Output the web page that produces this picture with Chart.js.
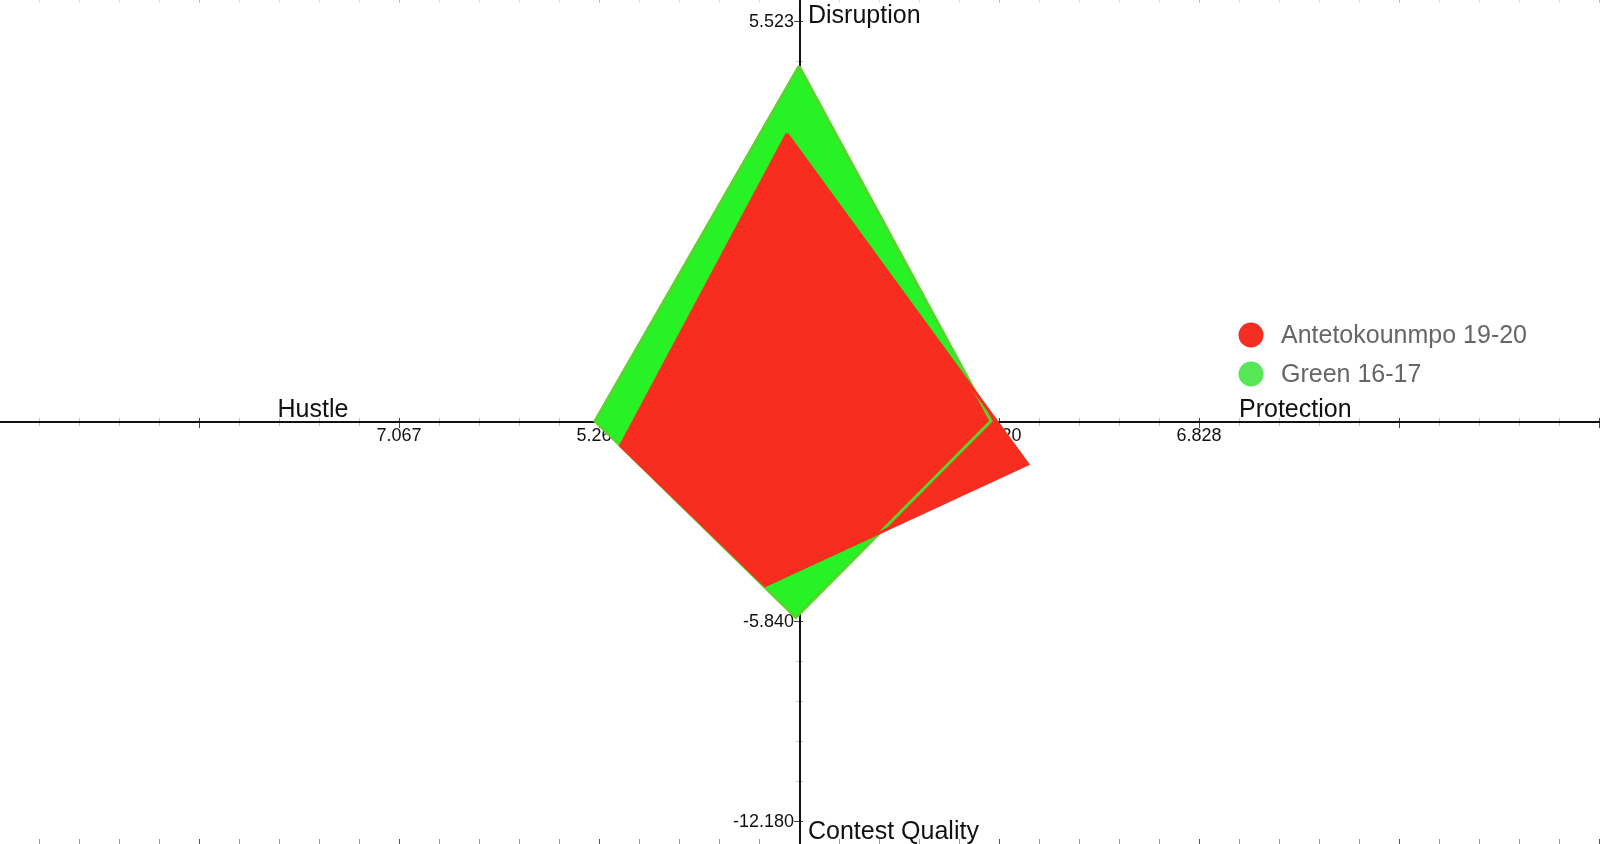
<!DOCTYPE html>
<html>
<head>
<meta charset="utf-8">
<title>Defensive profile</title>
<script src="https://cdn.jsdelivr.net/npm/chart.js@4.4.1/dist/chart.umd.min.js"></script>
<style>
  html, body { margin: 0; padding: 0; background: #fff; }
  #wrap { width: 1600px; height: 844px; }
</style>
</head>
<body>
<div id="wrap"><canvas id="chart" width="1600" height="844"></canvas></div>
<script>
// axes, clockwise from the top
const categories = ['Disruption', 'Protection', 'Contest Quality', 'Hustle'];
const halfTicks = ['3.012', '5.020', '-5.840', '5.267'];
const fullTicks = ['5.523', '6.828', '-12.180', '7.067'];

// series vertices in plot units (10 units = full axis length)
const seriesNames = ['Antetokounmpo 19-20', 'Green 16-17'];
const antetokounmpoX = [-0.3, 5.72, -0.85, -4.46];
const antetokounmpoY = [7.18, -1.08, -4.12, -0.62];
const greenX = [0, 4.8, -0.08, -5.1];
const greenY = [8.87, 0, -4.91, 0];

const axisDirs = [[0, 1], [1, 0], [0, -1], [-1, 0]];
const FONT = '"Liberation Sans", Arial, Helvetica, sans-serif';
const legendColors = ['rgb(244, 46, 36)', 'rgb(86, 230, 86)'];

function polygon(xs, ys) {
  const pts = xs.map((v, i) => ({ x: v, y: ys[i] }));
  pts.push({ x: xs[0], y: ys[0] });
  return pts;
}

// cross shaped axes, drawn before the polygons so they sit underneath
const crossAxes = {
  id: 'crossAxes',
  beforeDraw(chart) {
    const { ctx, chartArea: a, scales: { x, y } } = chart;
    const cx = Math.round(x.getPixelForValue(0));
    const cy = Math.round(y.getPixelForValue(0));
    ctx.save();
    ctx.lineWidth = 1;

    // tick rows along the top and bottom edges
    for (let i = Math.ceil(x.min); i <= Math.floor(x.max); i++) {
      const px = Math.round(x.getPixelForValue(i)) + 0.5;
      const major = i % 5 === 0;
      ctx.strokeStyle = major ? '#555' : '#999';
      ctx.beginPath(); ctx.moveTo(px, a.bottom - 5); ctx.lineTo(px, a.bottom); ctx.stroke();
      ctx.strokeStyle = major ? '#bbb' : '#ddd';
      ctx.beginPath(); ctx.moveTo(px, a.top); ctx.lineTo(px, a.top + 3); ctx.stroke();
    }

    // ticks on the horizontal axis
    for (let i = Math.ceil(x.min); i <= Math.floor(x.max); i++) {
      if (i === 0) continue;
      const px = Math.round(x.getPixelForValue(i)) + 0.5;
      const major = i % 5 === 0;
      ctx.strokeStyle = major ? '#444' : '#c4c4c4';
      ctx.beginPath(); ctx.moveTo(px, cy - 3); ctx.lineTo(px, cy + (major ? 7 : 5)); ctx.stroke();
    }
    // ticks on the vertical axis
    for (let i = Math.ceil(y.min); i <= Math.floor(y.max); i++) {
      if (i === 0) continue;
      const py = Math.round(y.getPixelForValue(i)) + 0.5;
      const major = i % 5 === 0;
      ctx.strokeStyle = major ? '#444' : '#c4c4c4';
      ctx.beginPath(); ctx.moveTo(cx - (major ? 5 : 3), py); ctx.lineTo(cx + 4, py); ctx.stroke();
    }

    // axis lines
    ctx.strokeStyle = '#111';
    ctx.lineWidth = 2;
    ctx.beginPath();
    ctx.moveTo(a.left, cy + 1); ctx.lineTo(a.right, cy + 1);
    ctx.moveTo(cx + 1, a.top); ctx.lineTo(cx + 1, a.bottom);
    ctx.stroke();

    // tick labels at half and full length of each axis
    ctx.fillStyle = '#111';
    ctx.font = '18px ' + FONT;
    axisDirs.forEach((d, k) => {
      [[5, halfTicks[k]], [10, fullTicks[k]]].forEach(([r, txt]) => {
        if (d[0] !== 0) {
          ctx.textAlign = 'center';
          ctx.textBaseline = 'alphabetic';
          ctx.fillText(txt, x.getPixelForValue(d[0] * r), cy + 20);
        } else {
          ctx.textAlign = 'right';
          ctx.textBaseline = 'middle';
          ctx.fillText(txt, cx - 5, y.getPixelForValue(d[1] * r) + 1);
        }
      });
    });

    // axis titles
    ctx.font = '25px ' + FONT;
    ctx.textBaseline = 'alphabetic';
    ctx.textAlign = 'left';
    ctx.fillText(categories[0], cx + 9, a.top + 23);
    ctx.fillText(categories[2], cx + 9, a.bottom - 5);
    ctx.fillText(categories[1], x.getPixelForValue(11), cy - 4);
    ctx.textAlign = 'center';
    ctx.fillText(categories[3], x.getPixelForValue(-12.15), cy - 4);
    ctx.restore();
  }
};

const dotLegend = {
  id: 'dotLegend',
  afterDraw(chart) {
    const ctx = chart.ctx;
    ctx.save();
    ctx.font = '25px ' + FONT;
    ctx.textAlign = 'left';
    ctx.textBaseline = 'middle';
    chart.data.datasets.forEach((ds, i) => {
      const yy = 335 + i * 39;
      ctx.fillStyle = legendColors[i];
      ctx.beginPath(); ctx.arc(1251, yy, 12.5, 0, Math.PI * 2); ctx.fill();
      ctx.fillStyle = '#666';
      ctx.fillText(ds.label, 1281, yy + 1);
    });
    ctx.restore();
  }
};

new Chart(document.getElementById('chart'), {
  type: 'scatter',
  data: {
    datasets: [
      {
        label: seriesNames[0],
        data: polygon(antetokounmpoX, antetokounmpoY),
        showLine: true,
        fill: 'shape',
        backgroundColor: 'rgb(249, 44, 32)',
        borderColor: 'rgb(249, 44, 32)',
        borderWidth: 3,
        pointRadius: 0
      },
      {
        label: seriesNames[1],
        data: polygon(greenX, greenY),
        showLine: true,
        fill: 'shape',
        backgroundColor: 'rgb(38, 242, 38)',
        borderColor: 'rgb(84, 214, 42)',
        borderWidth: 3,
        pointRadius: 0
      }
    ]
  },
  options: {
    responsive: false,
    devicePixelRatio: 1,
    animation: false,
    layout: { padding: 0 },
    scales: {
      x: { type: 'linear', min: -19.975, max: 20.025, display: false },
      y: { type: 'linear', min: -10.575, max: 10.525, display: false }
    },
    plugins: {
      legend: { display: false },
      tooltip: { enabled: false },
      filler: { drawTime: 'beforeDatasetsDraw' }
    }
  },
  plugins: [crossAxes, dotLegend]
});
</script>
</body>
</html>
